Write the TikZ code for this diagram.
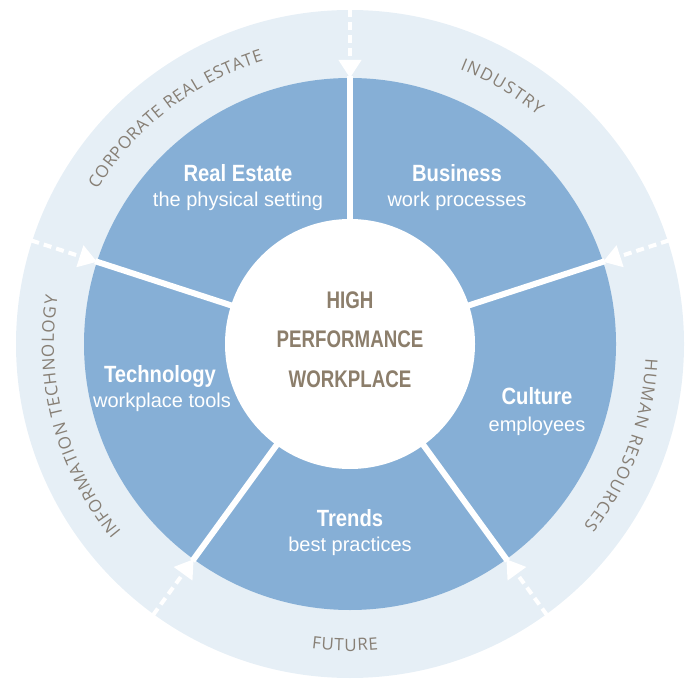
\documentclass[tikz,border=0pt]{standalone}
\usepackage{fontspec}
\setmainfont{Liberation Sans}
\newfontfamily\titlefont[FakeStretch=0.86]{Liberation Sans}
\newfontfamily\centerfont[FakeStretch=0.78]{Liberation Sans}
\newfontfamily\subfont{Liberation Sans}
\newfontfamily\ringfont{Open Sans}
\usetikzlibrary{arrows.meta,decorations.text}
\definecolor{ringbg}{HTML}{E6EFF6}
\definecolor{segblue}{HTML}{86AFD6}
\definecolor{taupe}{HTML}{8C7E6B}
\definecolor{ringtxt}{HTML}{877F75}
\begin{document}
\begin{tikzpicture}[x=1pt,y=1pt,
  title/.style={text=white,font=\titlefont\bfseries\fontsize{23.5}{24}\selectfont,anchor=base,inner sep=0pt},
  subtitle/.style={text=white,font=\subfont\fontsize{20}{22}\selectfont,anchor=base,inner sep=0pt},
  hub/.style={text=taupe,font=\centerfont\bfseries\fontsize{24}{26}\selectfont,anchor=base,inner sep=0pt},
  sepline/.style={white,line width=6pt},
  feed/.style={white,line width=4pt,dash pattern=on 8pt off 5pt,-{Triangle[width=22pt,length=18pt]}},
  ringlabel/.style={decorate,decoration={text along path,text align={fit to path},text color=ringtxt,text={|\ringfont\fontsize{17}{17}\selectfont|#1}}}
]
\useasboundingbox (0,0) rectangle (700,696);
\coordinate (C) at (350,352);
\fill[ringbg] (C) circle[radius=334];
\fill[segblue] (C) circle[radius=266];
\foreach \a [count=\i] in {90,18,-54,-126,162} {
  \coordinate (si\i) at ([shift={(\a:115)}]C);
  \coordinate (so\i) at ([shift={(\a:268)}]C);
  \coordinate (fa\i) at ([shift={(\a:335)}]C);
  \coordinate (fb\i) at ([shift={(\a:266)}]C);
  \draw[sepline] (si\i) -- (so\i);
}
\fill[white] (C) circle[radius=125];
\foreach \i in {1,...,5} { \draw[feed] (fa\i) -- (fb\i); }

\node[title] (reT) at (238,514) {Real Estate};
\node[subtitle] (reS) at (238,489) {the physical setting};
\node[title] (buT) at (457,514) {Business};
\node[subtitle] (buS) at (457,489) {work processes};
\node[title] (teT) at (160,313) {Technology};
\node[subtitle] (teS) at (162,288) {workplace tools};
\node[title] (cuT) at (537,291) {Culture};
\node[subtitle] (cuS) at (537,265) {employees};
\node[title] (trT) at (350,170) {Trends};
\node[subtitle] (trS) at (350,145) {best practices};

\node[hub] (h1) at (350,387) {HIGH};
\node[hub] (h2) at (350,348) {PERFORMANCE};
\node[hub] (h3) at (350,308) {WORKPLACE};

\path[ringlabel={CORPORATE REAL ESTATE}] ([shift={(148.6:296)}]C) arc[start angle=148.6,end angle=107,radius=296];
\path[ringlabel={INDUSTRY}] ([shift={(68.2:296)}]C) arc[start angle=68.2,end angle=50.6,radius=296];
\path[ringlabel={HUMAN RESOURCES}] ([shift={(-2.8:296)}]C) arc[start angle=-2.8,end angle=-37.9,radius=296];
\path[ringlabel={INFORMATION TECHNOLOGY}] ([shift={(219.4:296)}]C) arc[start angle=219.4,end angle=170.8,radius=296];
\path[ringlabel={FUTURE}] ([shift={(-97.2:307)}]C) arc[start angle=-97.2,end angle=-84.7,radius=307];
\end{tikzpicture}
\end{document}
